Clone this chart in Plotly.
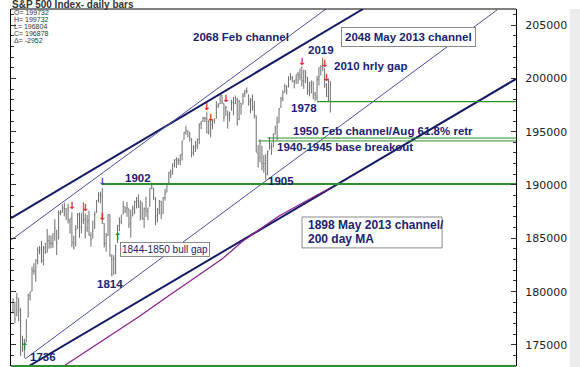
import plotly.graph_objects as go

# ---------------- data (S&P 500 index points; chart scale is points x 100) ----------------
opens = [1783.0,1790.2,1777.2,1790.9,1782.7,1743.8,1753.4,1752.9,1776.0,1796.2,1800.5,1820.1,1814.8,1828.5,1839.0,1838.9,1829.2,1841.1,1836.8,1847.7,
         1845.8,1844.9,1855.1,1857.7,1849.2,1874.1,1874.2,1878.5,1877.9,1878.3,1866.2,1869.1,1845.1,1842.8,1858.9,1872.3,1860.1,1874.5,1867.7,1859.5,
         1867.1,1852.1,1850.1,1859.2,1874.0,1886.6,1891.4,1890.3,1863.9,1845.5,1852.6,1872.3,1830.7,1818.2,1831.5,1846.0,1861.7,1865.8,1872.6,1879.3,
         1877.7,1877.7,1865.0,1870.8,1877.1,1884.4,1885.3,1879.5,1883.7,1868.5,1877.4,1875.3,1880.0,1896.8,1897.1,1888.2,1871.2,1876.7,1884.9,1873.3,
         1888.2,1893.3,1902.0,1911.8,1910.6,1920.3,1923.9,1923.1,1923.1,1928.5,1942.4,1949.0,1950.3,1949.4,1943.4,1930.8,1934.8,1937.2,1942.7,1957.5,
         1960.5,1962.9,1962.0,1949.3,1959.9,1956.6,1960.8,1962.3,1973.1,1975.9,1984.2,1976.4,1965.1,1966.7,1965.8,1969.9,1977.4,1976.3,1979.8,1961.5,
         1976.9,1975.6,1985.3,1988.1,1984.6,1978.3,1980.0,1973.2,1965.1,1929.8,1926.6,1936.3,1917.3,1923.0,1910.4,1933.4,1935.7,1935.6,1947.4,1958.9,
         1958.4,1972.7,1980.5,1986.8,1992.6,1991.7,1998.6,2000.5,1997.4,1998.5,2004.1,2003.6,2001.7,1998.0,2007.2,2000.7,1988.4,1992.9,1996.7,1986.0,
         1981.9,1999.3,2003.1,2012.7,2009.1,1992.8,1983.3,1997.3]
highs = [1793.9,1790.2,1798.8,1793.9,1784.8,1758.7,1755.8,1774.1,1798.0,1799.9,1823.5,1826.6,1830.3,1841.7,1842.9,1847.5,1842.8,1846.1,1858.7,1852.9,
         1852.6,1854.5,1867.9,1857.7,1876.2,1876.5,1881.9,1883.6,1877.9,1882.4,1868.4,1874.4,1852.4,1862.3,1873.8,1874.1,1873.5,1884.0,1873.3,1871.9,
         1875.9,1855.6,1866.6,1875.2,1885.8,1893.2,1893.8,1897.3,1864.0,1855.0,1872.4,1872.5,1835.1,1834.2,1844.0,1862.3,1869.6,1871.9,1884.9,1879.8,
         1884.1,1877.7,1877.0,1880.6,1885.2,1888.6,1891.3,1885.5,1883.7,1878.8,1889.1,1878.6,1897.1,1902.2,1897.1,1888.2,1878.3,1886.0,1884.9,1888.8,
         1896.3,1901.3,1912.3,1914.5,1920.0,1924.0,1925.9,1925.1,1928.6,1941.7,1949.4,1955.6,1950.9,1949.4,1943.4,1937.3,1941.2,1943.7,1957.7,1959.9,
         1963.9,1963.7,1968.2,1960.8,1959.9,1961.0,1962.3,1978.6,1976.7,1985.6,1984.2,1976.4,1974.2,1969.8,1968.7,1979.8,1982.5,1983.9,1981.8,1979.9,
         1976.9,1986.2,1989.2,1991.4,1984.6,1981.5,1984.9,1978.9,1965.1,1937.4,1942.9,1936.3,1927.9,1928.9,1932.4,1944.9,1939.7,1948.4,1955.2,1964.0,
         1972.0,1982.6,1988.6,1994.8,1993.5,2002.0,2005.0,2002.1,1998.6,2003.4,2006.1,2009.3,2011.2,2007.7,2007.2,2001.0,1996.7,1997.7,1996.7,1987.2,
         2002.3,2010.7,2012.3,2019.3,2009.1,1995.4,1999.8,1997.3]
lows = [1779.5,1770.4,1777.2,1772.3,1739.7,1743.8,1737.9,1752.6,1776.0,1791.8,1800.4,1815.9,1809.2,1825.6,1835.0,1826.9,1824.6,1835.6,1836.8,1840.2,
        1840.7,1841.1,1847.7,1834.4,1849.2,1871.6,1874.2,1870.6,1867.0,1863.9,1854.4,1841.9,1839.6,1842.8,1858.9,1850.4,1854.6,1863.5,1849.7,1856.0,
        1852.6,1842.1,1850.1,1859.2,1874.0,1883.8,1882.7,1863.3,1841.5,1837.5,1852.4,1833.0,1814.4,1815.8,1816.3,1846.0,1856.7,1863.2,1872.6,1873.9,
        1870.2,1859.7,1850.6,1870.8,1872.7,1878.0,1878.5,1866.8,1867.7,1859.8,1870.1,1867.0,1880.0,1896.1,1885.8,1862.4,1864.8,1872.4,1868.1,1873.3,
        1885.4,1893.3,1902.0,1906.5,1909.8,1916.6,1916.0,1918.8,1918.6,1922.9,1942.4,1947.2,1944.6,1940.8,1925.8,1927.7,1930.9,1933.6,1938.2,1952.3,
        1959.2,1958.9,1948.3,1947.5,1944.7,1952.2,1957.6,1962.3,1972.6,1975.9,1975.7,1959.5,1965.1,1952.9,1959.6,1969.9,1965.3,1975.7,1955.6,1960.8,
        1965.8,1975.6,1982.4,1985.8,1974.4,1967.3,1970.0,1962.4,1930.7,1916.4,1921.2,1913.8,1911.5,1904.8,1909.2,1933.4,1928.3,1935.6,1947.4,1941.5,
        1958.4,1972.7,1978.4,1986.8,1984.8,1991.7,1998.6,1996.2,1990.5,1994.6,1994.9,1998.1,1992.5,1990.1,1995.6,1984.6,1983.0,1985.9,1980.3,1978.5,
        1979.1,1993.3,2003.1,2006.6,1991.0,1982.8,1978.6,1968.0]
closes = [1792.5,1774.2,1794.2,1782.6,1741.9,1755.2,1751.6,1773.4,1797.0,1799.8,1819.3,1819.3,1829.8,1838.6,1840.8,1828.8,1839.8,1836.3,1847.6,1845.1,
          1845.2,1854.3,1859.5,1845.7,1873.9,1873.8,1877.0,1878.0,1877.2,1867.6,1868.2,1846.3,1841.1,1858.8,1872.3,1860.8,1872.0,1866.5,1857.4,1865.6,
          1852.6,1849.0,1857.6,1872.3,1885.5,1890.9,1888.8,1865.1,1845.0,1852.0,1872.2,1833.1,1815.7,1830.6,1843.0,1862.3,1864.9,1871.9,1879.6,1875.4,
          1878.6,1863.4,1869.4,1878.3,1884.0,1883.7,1881.1,1884.7,1867.7,1878.2,1875.6,1878.5,1896.7,1897.5,1888.5,1870.9,1877.9,1885.1,1872.8,1888.0,
          1892.5,1900.5,1911.9,1909.8,1920.0,1923.6,1925.0,1924.2,1927.9,1940.5,1949.4,1951.3,1950.8,1943.9,1930.1,1936.2,1937.8,1942.0,1957.0,1959.5,
          1962.9,1962.6,1950.0,1959.5,1957.2,1961.0,1960.2,1973.3,1974.6,1985.4,1977.7,1963.7,1972.8,1964.7,1967.6,1977.1,1973.3,1981.6,1958.1,1978.2,
          1973.6,1983.5,1987.0,1988.0,1978.3,1978.9,1970.0,1970.1,1930.7,1925.2,1939.0,1920.2,1920.2,1909.6,1931.6,1936.9,1933.8,1946.7,1955.2,1955.1,
          1971.7,1981.6,1986.5,1992.4,1988.4,1997.9,2000.0,2000.1,1996.7,2003.4,2002.3,2000.7,1997.7,2007.7,2001.5,1988.4,1995.7,1997.5,1985.5,1984.1,
          1999.0,2001.6,2011.4,2010.4,1994.3,1982.8,1998.3,1968.8]
bars = list(range(len(closes)))
scale = 100  # the chart quotes the index x 100

# 200 day moving average (bar, value)
ma_bars = [26, 46, 66, 81, 98, 110, 121, 140, 160, 167]
ma_vals = [172940, 175280, 177630, 179500, 181560, 183060, 184750, 187090, 189060, 189720]

# channel lines (two read points each: bar, value)
may_upper_x = [-1, 184.2];  may_upper_y = [186900, 206500]
feb_upper_x = [-1, 164.7];  feb_upper_y = [184840, 206500]
feb_lower_x = [6.3, 254.7]; feb_lower_y = [173690, 206410]
may_lower_x = [8.4, 264.7]; may_lower_y = [173030, 199940]

# horizontal support levels (start bar, level, width)
green_levels = [(47, 190100, 2.0), (160, 197820, 1.2), (134, 194400, 1.0), (129, 194130, 1.0)]

red_arrow_x = [31, 38, 47, 102, 104, 112, 152, 164, 165]
red_arrow_y = [187940, 187840, 186910, 197220, 196280, 198060, 201530, 201340, 199940]
green_arrow_x = [6, 55]
green_arrow_y = [174810, 185120]
blue_arrow_x = [47]
blue_arrow_y = [190190]

y_ticks = [175000, 180000, 185000, 190000, 195000, 200000, 205000]
legend_lines = ["O= 199732", "H= 199732", "L= 196804", "C= 196878", "Δ= -2952"]

NAVY = "#1b2370"
fig = go.Figure()

fig.add_trace(go.Ohlc(
    x=bars,
    open=[v * scale for v in opens], high=[v * scale for v in highs],
    low=[v * scale for v in lows], close=[v * scale for v in closes],
    increasing=dict(line=dict(color="#6e6e6e", width=1)),
    decreasing=dict(line=dict(color="#6e6e6e", width=1)),
    tickwidth=0.35, hoverinfo="skip", showlegend=False))

for xs, ys, col, w in [(may_upper_x, may_upper_y, "#141a66", 2),
                       (may_lower_x, may_lower_y, "#141a66", 2),
                       (feb_upper_x, feb_upper_y, "#4a4f9e", 1),
                       (feb_lower_x, feb_lower_y, "#4a4f9e", 1)]:
    fig.add_trace(go.Scatter(x=xs, y=ys, mode="lines", line=dict(color=col, width=w),
                             showlegend=False, hoverinfo="skip"))

fig.add_trace(go.Scatter(x=ma_bars, y=ma_vals, mode="lines",
                         line=dict(color="#8a1f8a", width=1.2), showlegend=False, hoverinfo="skip"))

for start, lvl, w in green_levels:
    fig.add_trace(go.Scatter(x=[start, 264.7], y=[lvl, lvl], mode="lines",
                             line=dict(color="#2e8f2e", width=w), showlegend=False, hoverinfo="skip"))

for xs, ys, txt, col in [(red_arrow_x, red_arrow_y, "↓", "#e02424"),
                         (green_arrow_x, green_arrow_y, "↑", "#1f8a1f"),
                         (blue_arrow_x, blue_arrow_y, "↓", "#3b3bc8")]:
    fig.add_trace(go.Scatter(x=xs, y=ys, mode="text", text=[txt] * len(xs),
                             textfont=dict(color=col, size=10, family="DejaVu Sans", weight="bold"),
                             showlegend=False, hoverinfo="skip"))

FONT = "Liberation Sans"
def lab(text, x, y, size=11.5, anchor="center", **kw):
    fig.add_annotation(x=x, y=y, xref="x", yref="y", text=text, showarrow=False,
                       xanchor=anchor, font=dict(family=FONT, size=size, color=NAVY, weight="bold"), **kw)

lab("2068 Feb channel", 120, 203870)
lab("2048 May 2013 channel", 207.9, 203870, bordercolor="#8a8a8a", borderwidth=1,
    borderpad=3, bgcolor="white")
lab("2019", 162.1, 202650)
lab("2010 hrly gap", 167.9, 201150, anchor="left")
lab("1978", 153.2, 197220)
lab("1950 Feb channel/Aug 61.8% retr", 146.3, 195060, anchor="left")
lab("1940-1945 base breakout", 137.9, 193560, anchor="left")
lab("1902", 65.8, 190650)
lab("1905", 141, 190370)
lab("1814", 51.1, 180720)
lab("1736", 15.8, 173870)

# boxed two-line label: box then its two lines
fig.add_shape(type="rect", xref="x", yref="y", x0=152.1, x1=225.8, y0=184100, y1=187000,
              line=dict(color="#8a8a8a", width=1), fillcolor="white", layer="above")
lab("1898 May 2013 channel/", 154.2, 186250, size=12, anchor="left")
lab("200 day MA", 154.2, 184940, size=12, anchor="left")

fig.add_annotation(x=56.3, y=184650, xref="x", yref="y", yanchor="top", xanchor="left",
                   text="1844-1850 bull gap", showarrow=False,
                   font=dict(family=FONT, size=10, color=NAVY),
                   bordercolor="#8a8a8a", borderwidth=1, borderpad=1, bgcolor="white")

# title and quote legend (paper coordinates)
fig.add_annotation(x=-0.002, y=1.012, xref="paper", yref="paper", xanchor="left", yanchor="middle",
                   text="S&P 500 Index- daily bars", showarrow=False,
                   font=dict(family=FONT, size=10, color="#333333", weight="bold"))
for k, line in enumerate(legend_lines):
    fig.add_annotation(x=0.002, y=(366 - (13 + 6.8 * k)) / 357, xref="paper", yref="paper",
                       xanchor="left", yanchor="middle", text=line, showarrow=False,
                       font=dict(family=FONT, size=7, color="#333333"))

# frame
fig.add_shape(type="line", xref="paper", yref="paper", x0=0, x1=1, y0=1, y1=1,
              line=dict(color="black", width=1))
fig.add_shape(type="line", xref="paper", yref="paper", x0=0, x1=1, y0=0, y1=0,
              line=dict(color="#2e8f2e", width=2))
fig.add_shape(type="rect", xref="paper", yref="paper", x0=(570 - 11) / 505, x1=(581 - 11) / 505,
              y0=-0.01, y1=1.0, fillcolor="#ececec", line=dict(width=0), layer="below")

fig.update_layout(
    width=580, height=367, margin=dict(l=11, r=64, t=9, b=1),
    paper_bgcolor="white", plot_bgcolor="white",
    xaxis=dict(range=[-1.05, 264.7], showticklabels=False, showgrid=False, zeroline=False,
               showline=False, ticks="", rangeslider=dict(visible=False), fixedrange=True),
    yaxis=dict(side="right", range=[173030, 206500], tickvals=y_ticks,
               ticktext=[str(v) for v in y_ticks], ticks="inside", ticklen=5, tickcolor="#333",
               showline=True, linecolor="black", linewidth=1, mirror="ticks",
               showgrid=False, zeroline=False, ticklabelstandoff=6, fixedrange=True,
               tickfont=dict(family="DejaVu Sans", size=11, color="#222222"),
               minor=dict(dtick=1000, ticks="inside", ticklen=3, tickcolor="#333")),
)

fig.write_html("out.html", config={"displayModeBar": False, "staticPlot": True},
               post_script="document.body.style.margin='0';document.body.style.overflow='hidden';")
